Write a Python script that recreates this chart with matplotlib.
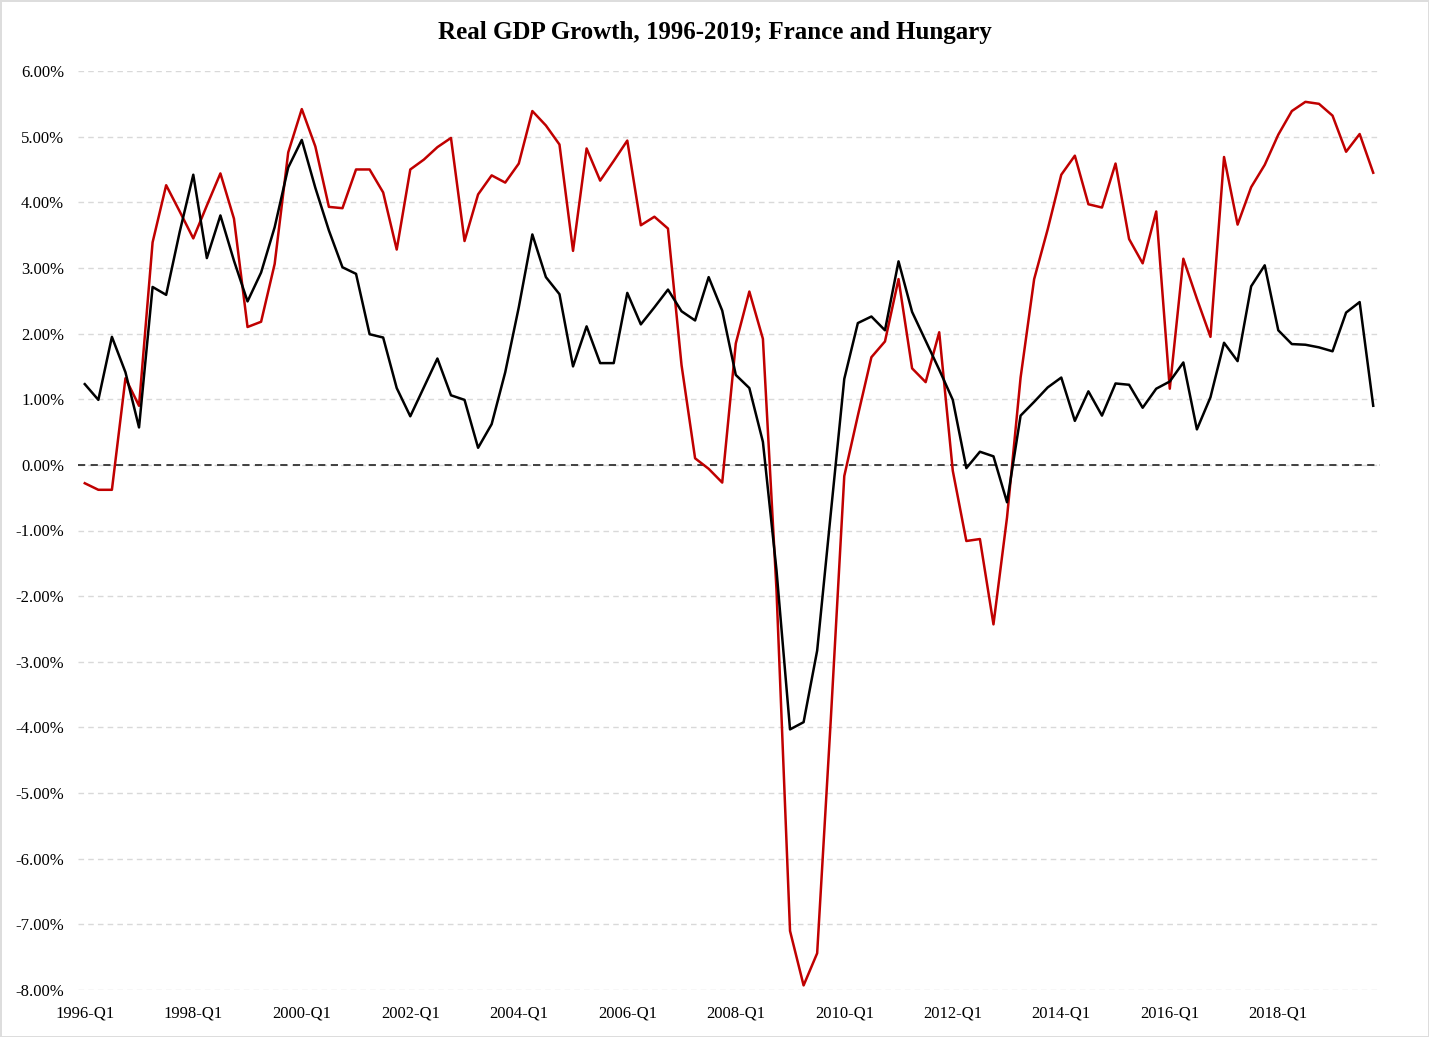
import matplotlib
matplotlib.use("Agg")
import matplotlib.pyplot as plt
import numpy as np

# quarterly real GDP growth, 1996-Q1 .. 2019-Q4 (%)
years = list(range(1996, 2020))
quarters = [f"{y}-Q{q}" for y in years for q in range(1, 5)]

france = [1.23, 0.99, 1.95, 1.41, 0.57, 2.71, 2.59, 3.55, 4.42, 3.15, 3.80, 3.11,
          2.49, 2.93, 3.62, 4.53, 4.95, 4.22, 3.57, 3.01, 2.91, 1.99, 1.94, 1.17,
          0.74, 1.18, 1.62, 1.06, 0.99, 0.26, 0.62, 1.41, 2.40, 3.51, 2.86, 2.60,
          1.50, 2.11, 1.55, 1.55, 2.62, 2.14, 2.40, 2.67, 2.34, 2.20, 2.86, 2.35,
          1.37, 1.17, 0.35, -1.60, -4.03, -3.92, -2.83, -0.75, 1.31, 2.16, 2.26, 2.05,
          3.10, 2.33, 1.89, 1.45, 0.99, -0.05, 0.20, 0.13, -0.57, 0.75, 0.96, 1.18,
          1.33, 0.67, 1.12, 0.75, 1.24, 1.22, 0.87, 1.16, 1.27, 1.56, 0.54, 1.03,
          1.86, 1.58, 2.72, 3.04, 2.05, 1.84, 1.83, 1.79, 1.73, 2.32, 2.48, 0.90]

hungary = [-0.28, -0.38, -0.38, 1.32, 0.90, 3.39, 4.26, 3.86, 3.45, 3.95, 4.44, 3.75,
           2.10, 2.18, 3.06, 4.76, 5.42, 4.85, 3.93, 3.91, 4.50, 4.50, 4.15, 3.28,
           4.50, 4.65, 4.84, 4.98, 3.41, 4.12, 4.41, 4.30, 4.59, 5.39, 5.17, 4.88,
           3.26, 4.82, 4.33, 4.63, 4.94, 3.65, 3.78, 3.60, 1.52, 0.10, -0.06, -0.27,
           1.85, 2.64, 1.92, -1.90, -7.10, -7.93, -7.44, -3.90, -0.17, 0.75, 1.64, 1.88,
           2.83, 1.47, 1.26, 2.02, -0.09, -1.16, -1.13, -2.43, -0.80, 1.33, 2.83, 3.59,
           4.42, 4.71, 3.97, 3.92, 4.59, 3.44, 3.07, 3.86, 1.16, 3.14, 2.53, 1.95,
           4.69, 3.66, 4.23, 4.57, 5.03, 5.39, 5.53, 5.50, 5.32, 4.77, 5.04, 4.45]

plt.rcParams['font.family'] = ['Liberation Serif', 'DejaVu Serif']

fig = plt.figure(figsize=(14.29, 10.37), dpi=100)
fig.patch.set_edgecolor('#dddddd')
fig.patch.set_linewidth(2)
ax = fig.add_axes([78 / 1429, 1 - 990 / 1037, 1302 / 1429, 919 / 1037])

x = np.arange(len(quarters))
ax.plot(x, hungary, color='#c00000', lw=1.8, zorder=3)
ax.plot(x, france, color='black', lw=1.8, zorder=4)
ax.axhline(0, color='#333333', lw=1.3, ls=(0, (4, 3)), zorder=2)

ax.set_xlim(-0.5, len(quarters) - 0.5)
ax.set_ylim(-8, 6)
ax.set_yticks(np.arange(-8, 7, 1))
ax.set_yticklabels([f"{v:.2f}%" for v in np.arange(-8, 7, 1)], fontsize=12)
ax.set_xticks(x[::8])
ax.set_xticklabels(quarters[::8], fontsize=12)
ax.tick_params(length=0)
ax.tick_params(axis='y', pad=10)
ax.tick_params(axis='x', pad=11)
ax.yaxis.grid(True, color='#d9d9d9', ls=(0, (4, 3)), lw=1)
ax.set_axisbelow(True)
for s in ax.spines.values():
    s.set_visible(False)

fig.text(0.5, 1 - 33 / 1037, "Real GDP Growth, 1996-2019; France and Hungary",
         ha='center', va='center', fontsize=18, fontweight='bold')

fig.savefig("out.png", dpi=100, edgecolor=fig.get_edgecolor())
